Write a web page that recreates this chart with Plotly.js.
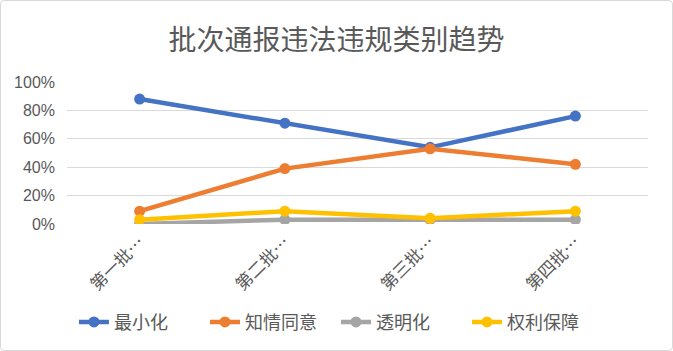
<!DOCTYPE html>
<html>
<head>
<meta charset="utf-8">
<script src="https://cdn.plot.ly/plotly-3.0.1.min.js"></script>
<style>
html,body{margin:0;padding:0;background:#fff;}
#wrap{position:relative;width:673px;height:351px;}
#chart{width:673px;height:351px;}
#frame{position:absolute;left:0;top:0;width:673px;height:351px;box-sizing:border-box;border:1px solid #d9d9d9;border-radius:4px;pointer-events:none;}
</style>
</head>
<body>
<div id="wrap"><div id="chart"></div><div id="frame"></div></div>
<script>
const categories = ["第一批…", "第二批…", "第三批…", "第四批…"];
const seriesNames = ["最小化", "知情同意", "透明化", "权利保障"];
const minimization = [0.88, 0.71, 0.54, 0.76];
const consent = [0.09, 0.39, 0.53, 0.42];
const transparency = [0.00, 0.03, 0.03, 0.03];
const rights = [0.03, 0.09, 0.04, 0.09];
const colors = ["#4472C4", "#ED7D31", "#A5A5A5", "#FFC000"];

const values = [minimization, consent, transparency, rights];
const font = "'Noto Sans CJK SC', 'Noto Sans', sans-serif";
const traces = values.map((v, i) => ({
  type: "scatter",
  mode: "lines+markers",
  x: categories,
  y: v,
  name: seriesNames[i],
  line: {color: colors[i], width: 4.5},
  marker: {color: colors[i], size: 11}
}));

const layout = {
  width: 673, height: 351,
  margin: {l: 67, r: 25, t: 82, b: 126},
  paper_bgcolor: "#ffffff",
  plot_bgcolor: "#ffffff",
  font: {family: font, color: "#595959", size: 16},
  title: {text: "批次通报违法违规类别趋势", x: 0.5, xanchor: "center", y: 0.885, yanchor: "middle",
          font: {family: font, size: 28, color: "#595959"}},
  xaxis: {type: "category", range: [-0.5, 3.5], showgrid: false, zeroline: false, showline: false,
          tickangle: -45, ticks: "", ticklabelstandoff: 4,
          tickfont: {family: font, size: 17, color: "#595959"}},
  yaxis: {range: [-0.0005, 1.0005], dtick: 0.2, tick0: 0, tickformat: ".0%", showgrid: true,
          gridcolor: "#D9D9D9", gridwidth: 1, zeroline: false, showline: false, ticks: "",
          ticklabelstandoff: 11,
          tickfont: {family: "'Liberation Sans', sans-serif", size: 16, color: "#595959"}},
  showlegend: true,
  legend: {orientation: "h", x: 0.012, xanchor: "left", y: -0.68, yanchor: "middle",
           entrywidth: 86, entrywidthmode: "pixels",
           font: {family: font, size: 18, color: "#595959"}, traceorder: "normal"}
};

Plotly.newPlot("chart", traces, layout, {displayModeBar: false, staticPlot: true});
</script>
</body>
</html>
